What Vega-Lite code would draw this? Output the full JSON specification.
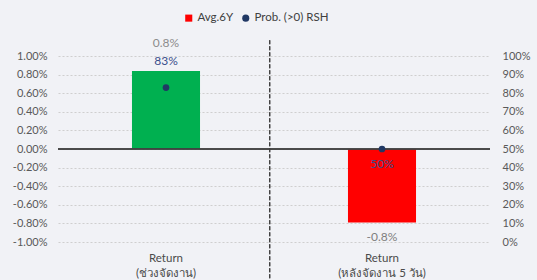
{
  "$schema": "https://vega.github.io/schema/vega-lite/v6.json",
  "width": 432,
  "height": 186,
  "autosize": "none",
  "padding": {"left": 58, "top": 56, "right": 47, "bottom": 38},
  "background": "#f1f2f6",
  "config": {
    "view": {"stroke": null},
    "font": "Lato",
    "locale": {"number": {"decimal": ".", "thousands": ",", "grouping": [3], "currency": ["", ""], "minus": "-"}},
    "axis": {"labelFont": "Lato", "labelFontSize": 11, "labelColor": "#595959", "domain": false, "ticks": false, "labelOverlap": false},
    "legend": {"labelFont": "Lato"}
  },
  "data": {
    "values": [
      {"cat": "Return|(ช่วงจัดงาน)", "ret": 0.0084, "prob": 0.83, "series": "Avg.6Y"},
      {"cat": "Return|(หลังจัดงาน 5 วัน)", "ret": -0.0079, "prob": 0.50, "series": "Avg.6Y"}
    ]
  },
  "layer": [
    {
      "layer": [
        {
          "mark": {"type": "bar"},
          "encoding": {
            "x": {
              "field": "cat", "type": "nominal", "sort": null, "title": null,
              "scale": {"paddingInner": 0.685, "paddingOuter": 0.3425},
              "axis": {"labelAngle": 0, "labelExpr": "split(datum.label, '|')", "labelPadding": 10, "labelLineHeight": 15, "labelFontSize": 11.5, "labelColor": "#4a4a4a"}
            },
            "y": {
              "field": "ret", "type": "quantitative", "title": null,
              "scale": {"domain": [-0.01, 0.01], "nice": false, "zero": false},
              "axis": {"format": ".2%", "tickCount": 11, "values": [-0.01, -0.008, -0.006, -0.004, -0.002, 0, 0.002, 0.004, 0.006, 0.008, 0.01], "labelOverlap": false, "grid": true, "gridColor": "#cfcfcf", "gridDash": [2, 2], "gridWidth": 1, "gridOpacity": 1, "labelPadding": 11, "orient": "left"}
            },
            "color": {"condition": {"test": "datum.ret > 0", "value": "#00b050"}, "value": "#ff0000"}
          }
        },
        {
          "mark": {"type": "rule", "color": "#404040", "strokeWidth": 1.5},
          "encoding": {"y": {"datum": 0, "type": "quantitative"}}
        },
        {
          "transform": [{"filter": "datum.ret > 0"}],
          "mark": {"type": "text", "dy": -28, "fontSize": 12, "color": "#8c8c8c"},
          "encoding": {
            "x": {"field": "cat", "type": "nominal", "sort": null},
            "y": {"field": "ret", "type": "quantitative"},
            "text": {"field": "ret", "format": ".1%"}
          }
        },
        {
          "transform": [{"filter": "datum.ret < 0"}],
          "mark": {"type": "text", "dy": 15, "fontSize": 12, "color": "#7f7f7f"},
          "encoding": {
            "x": {"field": "cat", "type": "nominal", "sort": null},
            "y": {"field": "ret", "type": "quantitative"},
            "text": {"field": "ret", "format": ".1%"}
          }
        }
      ]
    },
    {
      "encoding": {
        "x": {
          "field": "cat", "type": "nominal", "sort": null, "title": null,
          "scale": {"paddingInner": 0.685, "paddingOuter": 0.3425},
          "axis": null
        }
      },
      "layer": [
        {
          "mark": {"type": "point", "filled": true, "opacity": 1, "size": 45},
          "encoding": {
            "y": {
              "field": "prob", "type": "quantitative", "title": null,
              "scale": {"domain": [0, 1], "nice": false},
              "axis": {"orient": "right", "format": ".0%", "tickCount": 11, "values": [0, 0.1, 0.2, 0.3, 0.4, 0.5, 0.6, 0.7, 0.8, 0.9, 1], "labelOverlap": false, "grid": false, "labelPadding": 12}
            },
            "color": {
              "datum": "Prob. (>0) RSH", "type": "nominal", "title": null,
              "scale": {"domain": ["Avg.6Y", "Prob. (>0) RSH"], "range": ["#ff0000", "#203864"]},
              "legend": {"orient": "none", "legendX": 125, "legendY": -44, "direction": "horizontal", "labelFontSize": 11.5, "labelColor": "#404040", "symbolSize": 50, "columnPadding": 6, "labelOffset": 3}
            },
            "shape": {
              "datum": "Prob. (>0) RSH", "type": "nominal", "title": null,
              "scale": {"domain": ["Avg.6Y", "Prob. (>0) RSH"], "range": ["square", "circle"]}
            }
          }
        },
        {
          "transform": [{"filter": "datum.ret > 0"}],
          "mark": {"type": "text", "dy": -27, "fontSize": 12, "color": "#3b4f8c"},
          "encoding": {"y": {"field": "prob", "type": "quantitative"}, "text": {"field": "prob", "format": ".0%"}}
        },
        {
          "transform": [{"filter": "datum.ret < 0"}],
          "mark": {"type": "text", "dy": 15, "fontSize": 12, "color": "#3b4f8c"},
          "encoding": {"y": {"field": "prob", "type": "quantitative"}, "text": {"field": "prob", "format": ".0%"}}
        }
      ]
    },
    {
      "mark": {"type": "rule", "color": "#404040", "strokeWidth": 1.2, "strokeDash": [4, 2]},
      "encoding": {
        "x": {"datum": 0.49, "type": "quantitative", "scale": {"domain": [0, 1]}, "axis": null},
        "y": {"datum": 0.0117, "type": "quantitative", "scale": {"domain": [-0.01, 0.01], "nice": false, "zero": false}, "axis": null},
        "y2": {"datum": -0.0142}
      }
    }
  ],
  "resolve": {"scale": {"x": "independent", "y": "independent", "color": "independent", "shape": "independent"}, "axis": {"y": "independent", "x": "independent"}}
}
